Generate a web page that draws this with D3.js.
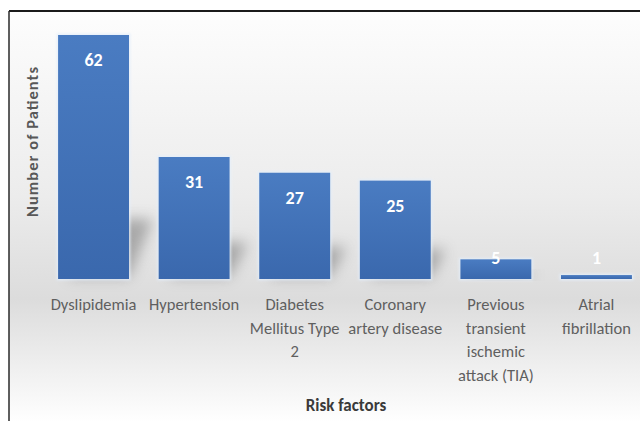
<!DOCTYPE html>
<html>
<head>
<meta charset="utf-8">
<script src="https://cdn.jsdelivr.net/npm/d3@7/dist/d3.min.js"></script>
<style>
  html, body { margin: 0; padding: 0; background: #fff; }
  svg { display: block; }
  text { font-family: Carlito, Calibri, Lato, "Open Sans", sans-serif; }
</style>
</head>
<body>
<svg id="chart" width="640" height="421"></svg>
<script>
// Risk factors among patients
const categories = [
  "Dyslipidemia",
  "Hypertension",
  "Diabetes Mellitus Type 2",
  "Coronary artery disease",
  "Previous transient ischemic attack (TIA)",
  "Atrial fibrillation"
];
const patients = [62, 31, 27, 25, 5, 1];
const tickLines = [
  ["Dyslipidemia"],
  ["Hypertension"],
  ["Diabetes", "Mellitus Type", "2"],
  ["Coronary", "artery disease"],
  ["Previous", "transient", "ischemic", "attack (TIA)"],
  ["Atrial", "fibrillation"]
];
const xTitle = "Risk factors";
const yTitle = "Number of Patients";

const W = 640, H = 421;
const svg = d3.select("#chart");
const defs = svg.append("defs");

// chart area background
const bg = defs.append("linearGradient").attr("id", "bgGrad")
  .attr("x1", 0).attr("y1", 0).attr("x2", 0).attr("y2", 1);
bg.append("stop").attr("offset", "0%").attr("stop-color", "#fdfdfd");
bg.append("stop").attr("offset", "45%").attr("stop-color", "#ececec");
bg.append("stop").attr("offset", "70%").attr("stop-color", "#dcdcdc");
bg.append("stop").attr("offset", "100%").attr("stop-color", "#ffffff");

const barGrad = defs.append("linearGradient").attr("id", "barGrad")
  .attr("x1", 0).attr("y1", 0).attr("x2", 0).attr("y2", 1);
barGrad.append("stop").attr("offset", "0%").attr("stop-color", "#4a7cc2");
barGrad.append("stop").attr("offset", "100%").attr("stop-color", "#3a68ad");

const blur = defs.append("filter").attr("id", "shadowBlur")
  .attr("x", "-80%").attr("y", "-80%").attr("width", "260%").attr("height", "260%");
blur.append("feGaussianBlur").attr("stdDeviation", 7);

const glow = defs.append("filter").attr("id", "glow")
  .attr("x", "-20%").attr("y", "-20%").attr("width", "140%").attr("height", "140%");
glow.append("feGaussianBlur").attr("stdDeviation", 1.2);

const frameX = 9, frameY = 11;
svg.append("rect")
  .attr("x", frameX).attr("y", frameY)
  .attr("width", W - frameX).attr("height", H - frameY + 2)
  .attr("fill", "url(#bgGrad)");

// scales
const baseline = 279;
const x = d3.scaleBand()
  .domain(categories)
  .range([43, 647])
  .paddingInner(0.295)
  .paddingOuter(0.15);
const y = d3.scaleLinear().domain([0, 62]).range([baseline, 35]);

const data = categories.map((c, i) => ({ c, v: patients[i], lines: tickLines[i] }));

// perspective shadows behind bars
svg.append("g").selectAll("path").data(data).join("path")
  .attr("d", d => {
    const x0 = x(d.c), x1 = x0 + x.bandwidth();
    const h = baseline - y(d.v);
    const dy = Math.min(h * 0.3, 60), dx = Math.min(h * 0.15, 24);
    return `M${x0 + 10},${baseline - 2} L${x1},${baseline - 2} L${x1 + dx},${baseline - dy} L${x0 + 10 + dx},${baseline - dy} Z`;
  })
  .attr("fill", "#6a6a6a")
  .attr("opacity", 0.5)
  .attr("filter", "url(#shadowBlur)");

// soft light edge around the bars
svg.append("g").selectAll("rect").data(data).join("rect")
  .attr("x", d => x(d.c) - 1.5)
  .attr("y", d => y(d.v) - 1.5)
  .attr("width", x.bandwidth() + 3)
  .attr("height", d => baseline - y(d.v) + 3)
  .attr("fill", "#e3eefa")
  .attr("opacity", 0.8)
  .attr("filter", "url(#glow)");

// bars
svg.append("g").selectAll("rect").data(data).join("rect")
  .attr("x", d => x(d.c))
  .attr("y", d => y(d.v))
  .attr("width", x.bandwidth())
  .attr("height", d => baseline - y(d.v))
  .attr("fill", "url(#barGrad)");

// value labels
svg.append("g").selectAll("text").data(data).join("text")
  .attr("x", d => x(d.c) + x.bandwidth() / 2)
  .attr("y", d => Math.min(y(d.v) + 31, 264))
  .attr("text-anchor", "middle")
  .attr("font-size", 18)
  .attr("font-weight", "bold")
  .attr("fill", "#ffffff")
  .text(d => d.v);

// category axis labels
const xAxis = d3.axisBottom(x).tickSize(0).tickFormat(() => "");
const axisG = svg.append("g").attr("transform", `translate(0,${baseline})`).call(xAxis);
axisG.select(".domain").remove();
axisG.selectAll(".tick").each(function(c, i) {
  const t = d3.select(this).select("text")
    .attr("y", 0).attr("dy", null)
    .attr("font-size", 16.5)
    .attr("fill", "#5f5f5f")
    .attr("text-anchor", "middle")
    .style("font-family", "Carlito, Calibri, Lato, sans-serif");
  tickLines[i].forEach((line, k) => {
    t.append("tspan").attr("x", 0).attr("y", 31 + k * 23.5).text(line);
  });
});

// axis titles
svg.append("text")
  .attr("x", 346).attr("y", 411)
  .attr("text-anchor", "middle")
  .attr("font-size", 17).attr("font-weight", "bold")
  .attr("fill", "#3a3a3a")
  .text(xTitle);

svg.append("text")
  .attr("transform", "translate(38,142) rotate(-90)")
  .attr("text-anchor", "middle")
  .attr("font-size", 16.5).attr("font-weight", "bold")
  .attr("fill", "#585858")
  .attr("textLength", 150)
  .attr("lengthAdjust", "spacing")
  .text(yTitle);

// frame lines
svg.append("line").attr("x1", frameX).attr("x2", W).attr("y1", frameY).attr("y2", frameY)
  .attr("stroke", "#1a1a1a").attr("stroke-width", 2);
svg.append("line").attr("x1", frameX).attr("x2", frameX).attr("y1", frameY).attr("y2", H)
  .attr("stroke", "#2a2a2a").attr("stroke-width", 1.5);
</script>
</body>
</html>
